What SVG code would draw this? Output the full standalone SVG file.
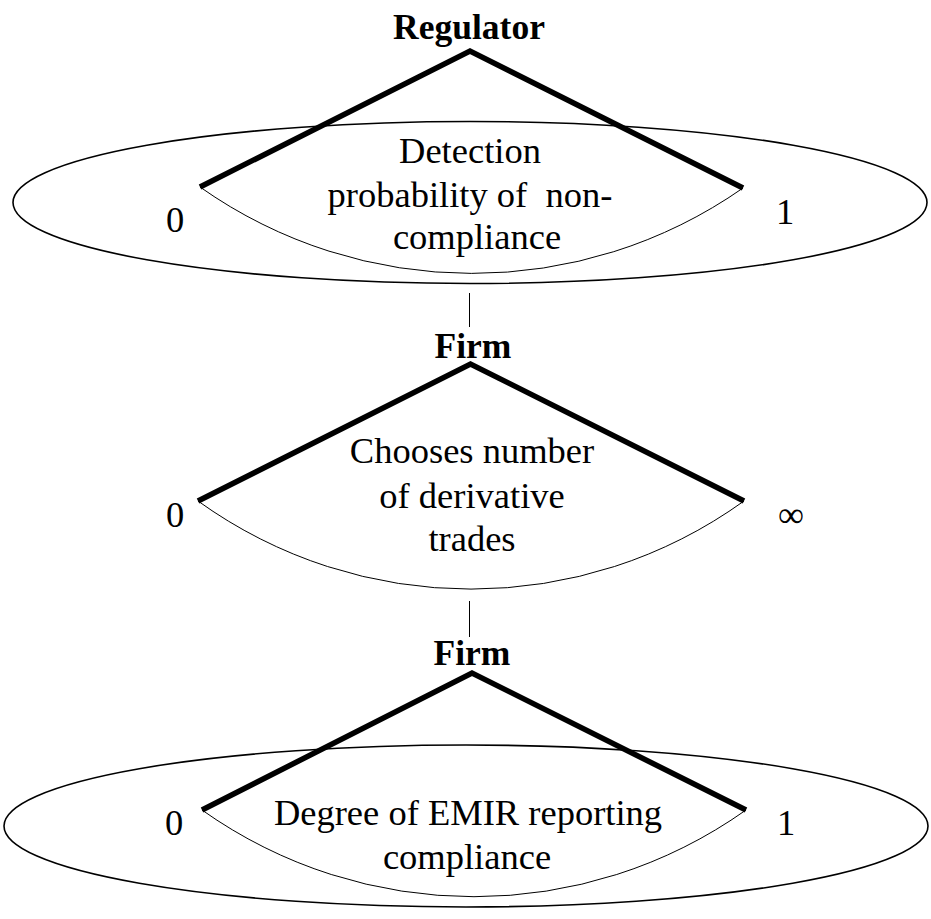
<svg xmlns="http://www.w3.org/2000/svg" width="931" height="919" viewBox="0 0 931 919" font-family="'Liberation Serif', 'Times New Roman', 'DejaVu Serif', serif">
<style>
.bg{fill:#ffffff}
.ell{fill:none;stroke:#000;stroke-width:1.6}
.branch{fill:none;stroke:#000;stroke-width:5.5;stroke-linejoin:miter;stroke-linecap:butt}
.arc{fill:none;stroke:#000;stroke-width:1}
.conn{fill:none;stroke:#000;stroke-width:1}
text{font-family:'Liberation Serif','Times New Roman','DejaVu Serif',serif;font-size:36.5px;fill:#000;text-anchor:middle}
.b{font-weight:bold;font-size:35.5px}
</style>
<rect class="bg" x="0" y="0" width="931" height="919"/>
<g id="connectors">
<line class="conn" x1="469.5" y1="293" x2="469.5" y2="327"/>
<line class="conn" x1="469.5" y1="601" x2="469.5" y2="637"/>
</g>
<g id="regulator">
<ellipse class="ell" cx="470" cy="202.5" rx="457" ry="81"/>
<path class="arc" d="M200,187 A472,472 0 0 0 743,188"/>
<path class="branch" d="M200,187 L470,51 L743,188"/>
<text class="b" x="469" y="39">Regulator</text>
<text x="470" y="163">Detection</text>
<text x="470" y="207" xml:space="preserve">probability of  non-</text>
<text x="477" y="249">compliance</text>
<text x="175" y="232">0</text>
<text x="785" y="224">1</text>
</g>
<g id="firm-trades">
<path class="arc" d="M198,501 A467,467 0 0 0 744,501"/>
<path class="branch" d="M198,501 L470.5,364 L744,501"/>
<text class="b" x="473" y="358">Firm</text>
<text x="472" y="463">Chooses number</text>
<text x="472" y="508">of derivative</text>
<text x="472" y="551">trades</text>
<text x="175" y="527">0</text>
<text x="791" y="527">∞</text>
</g>
<g id="firm-compliance">
<ellipse class="ell" cx="466" cy="826" rx="462" ry="81"/>
<path class="arc" d="M202,810 A470,470 0 0 0 746,810"/>
<path class="branch" d="M202,810 L472,673 L746,810"/>
<text class="b" x="472" y="665">Firm</text>
<text x="468" y="825">Degree of EMIR reporting</text>
<text x="467" y="869">compliance</text>
<text x="174" y="835">0</text>
<text x="786" y="835">1</text>
</g>
</svg>
